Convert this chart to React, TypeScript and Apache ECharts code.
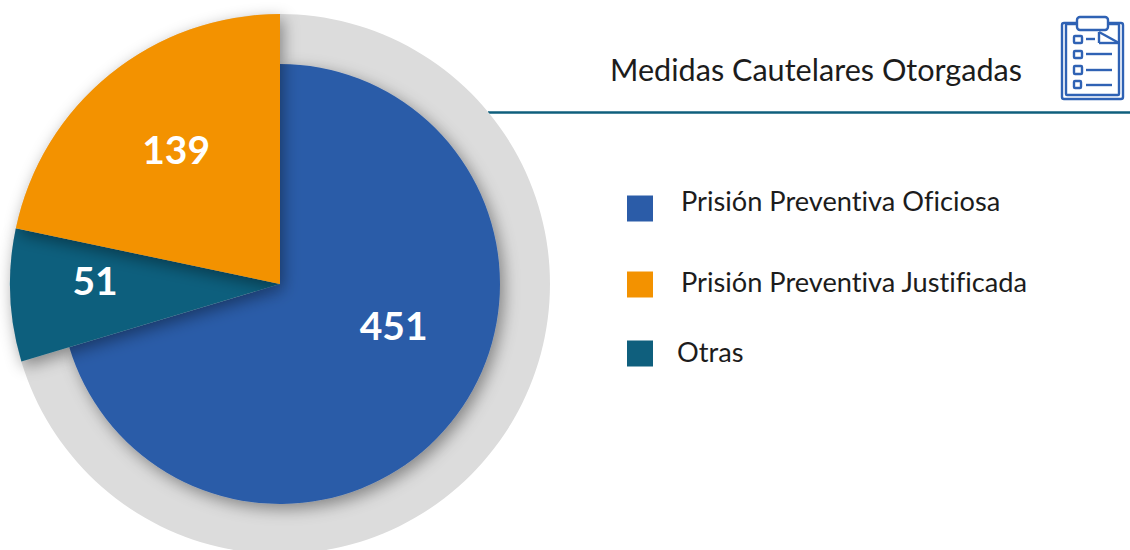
import React, { useEffect, useRef } from "react";
import * as echarts from "echarts";

const categories = ["Prisión Preventiva Oficiosa", "Otras", "Prisión Preventiva Justificada"];
const values = [451, 51, 139];
const colors = ["#2b5ca8", "#0f5f7d", "#f39200"];
const labelOffsets = [[23, -26], [-47, -10], [-17, -28]];
const titleText = "Medidas Cautelares Otorgadas";
const FONT = "Lato, 'Open Sans', sans-serif";
const ICON = "#2f62b4";

const legendRows = [
  { name: categories[0], top: 187, left: 627, textPad: [0, 0, 0, 23], lift: 8, color: colors[0] },
  { name: categories[2], top: 268, left: 627, textPad: [0, 0, 0, 23], lift: 3, color: colors[2] },
  { name: categories[1], top: 338, left: 627, textPad: [0, 0, 0, 19], lift: 2, color: colors[1] },
];

const line = (x1: number, y1: number, x2: number, y2: number) => ({
  type: "line",
  shape: { x1, y1, x2, y2 },
  style: { stroke: ICON, lineWidth: 2.4 },
});
const box = (x: number, y: number, width: number, height: number, r = 1, fill = "none") => ({
  type: "rect",
  shape: { x, y, width, height, r },
  style: { stroke: ICON, lineWidth: 2.4, fill },
});

export default function App() {
  const ref = useRef<HTMLDivElement>(null);
  useEffect(() => {
    document.body.style.margin = "0";
    const chart = echarts.init(ref.current!, null, { renderer: "svg" });
    const center = [280, 284];
    chart.setOption({
      animation: false,
      backgroundColor: "#ffffff",
      legend: legendRows.map((r) => ({
        left: r.left,
        top: r.top,
        orient: "vertical",
        padding: 0,
        itemWidth: 26,
        itemHeight: 26,
        icon: "rect",
        selectedMode: false,
        formatter: (n: string) => `${n}\n`,
        data: [{ name: r.name, itemStyle: { color: r.color } }],
        textStyle: { fontFamily: FONT, fontSize: 27.2, color: "#1c1c1c", padding: r.textPad, lineHeight: r.lift * 2 },
      })),
      graphic: [
        { type: "text", x: 610, y: 54, style: { text: titleText, font: `400 30.6px ${FONT}`, fill: "#1c1c1c" } },
        { type: "line", shape: { x1: 488, y1: 112.5, x2: 1130, y2: 112.5 }, style: { stroke: "#0f5f7d", lineWidth: 2.5 } },
        box(1062, 23, 61, 76, 2),
        box(1066, 24, 53, 71, 1),
        box(1077, 17, 31, 13, 3, "#ffffff"),
        line(1099, 32, 1099, 43),
        line(1099, 43, 1119, 43),
        line(1099, 32, 1119, 43),
        box(1074, 36, 8, 7),
        box(1074, 51, 8, 7),
        box(1074, 66, 8, 8),
        box(1074, 81, 7, 7),
        line(1086, 39, 1095, 39),
        line(1086, 54, 1112, 54),
        line(1086, 70, 1112, 70),
        line(1086, 85, 1112, 85),
      ],
      series: [
        {
          type: "pie",
          silent: true,
          z: 1,
          center,
          radius: [0, 270],
          startAngle: 90,
          label: { show: false },
          labelLine: { show: false },
          itemStyle: { color: "#dcdcdc" },
          data: [{ value: values.reduce((a, b) => a + b, 0), name: "" }],
          legendHoverLink: false,
        },
        {
          type: "pie",
          silent: true,
          z: 2,
          center,
          radius: [0, 220],
          startAngle: 90,
          clockwise: true,
          legendHoverLink: false,
          labelLine: { show: false },
          data: categories.map((name, i) => ({
            name,
            value: values[i],
            itemStyle:
              i === 0
                ? { color: colors[0], shadowBlur: 16, shadowColor: "rgba(0,0,0,0.4)", shadowOffsetX: 4, shadowOffsetY: 5 }
                : { color: "transparent" },
            label:
              i === 0
                ? { show: true, position: "inside", formatter: "{c}", color: "#fff", fontFamily: FONT, fontWeight: 700, fontSize: 39, offset: labelOffsets[0] }
                : { show: false },
          })),
        },
        {
          type: "pie",
          silent: true,
          z: 3,
          center,
          radius: [0, 270],
          startAngle: 90,
          clockwise: true,
          legendHoverLink: false,
          labelLine: { show: false },
          data: categories.map((name, i) => ({
            name,
            value: values[i],
            itemStyle:
              i === 0
                ? { color: "transparent" }
                : { color: colors[i], shadowBlur: 16, shadowColor: "rgba(0,0,0,0.4)", shadowOffsetX: 3, shadowOffsetY: 5 },
            label:
              i === 0
                ? { show: false }
                : { show: true, position: "inside", formatter: "{c}", color: "#fff", fontFamily: FONT, fontWeight: 700, fontSize: 39, offset: labelOffsets[i] },
          })),
        },
      ],
    });
    return () => chart.dispose();
  }, []);
  return <div ref={ref} style={{ position: "fixed", left: 0, top: 0, width: 1130, height: 550, fontVariantLigatures: "none" }} />;
}
